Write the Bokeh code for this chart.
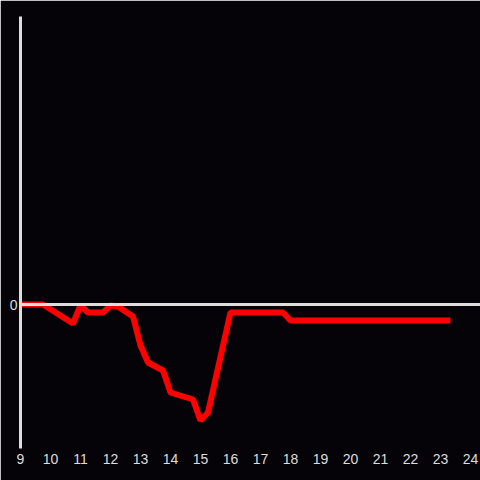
from bokeh.plotting import figure
from bokeh.models import Span, FixedTicker, Range1d
from bokeh.embed import file_html
from bokeh.resources import INLINE

hours = [9, 9.75, 10.75, 11, 11.25, 11.75, 12, 12.25, 12.75, 13, 13.25, 13.75,
         14, 14.75, 15, 15.25, 16, 17.75, 18, 23.33]
values = [0, 0, -1.9, -0.1, -0.8, -0.8, -0.1, -0.2, -1.2, -4.1, -5.8, -6.6,
          -8.8, -9.5, -11.6, -10.8, -0.8, -0.8, -1.6, -1.6]
x_ticks = list(range(9, 25))
y_ticks = [0]

BG = "#050307"
FG = "#dddddd"

p = figure(width=480, height=480, output_backend="svg", toolbar_location=None,
           x_range=Range1d(9, 24.333), y_range=Range1d(-14.4, 28.8),
           min_border_left=20, min_border_right=0, min_border_top=16, min_border_bottom=32)
p.background_fill_color = BG
p.border_fill_color = BG
p.outline_line_color = BG
p.outline_line_width = 2
p.grid.visible = False

p.xaxis.ticker = FixedTicker(ticks=x_ticks)
p.xaxis.axis_line_color = None
p.xaxis.major_tick_line_color = None
p.xaxis.minor_tick_line_color = None
p.xaxis.major_tick_out = 0
p.xaxis.major_tick_in = 0
p.xaxis.major_label_text_color = FG
p.xaxis.major_label_text_font = "Liberation Sans"
p.xaxis.major_label_text_font_size = "14px"
p.xaxis.major_label_standoff = 5

p.yaxis.ticker = FixedTicker(ticks=y_ticks)
p.yaxis.axis_line_color = FG
p.yaxis.axis_line_width = 3
p.yaxis.major_tick_line_color = None
p.yaxis.minor_tick_line_color = None
p.yaxis.major_tick_out = 0
p.yaxis.major_tick_in = 0
p.yaxis.major_label_text_color = FG
p.yaxis.major_label_text_font = "Liberation Sans"
p.yaxis.major_label_text_font_size = "14px"
p.yaxis.major_label_standoff = 3

p.add_layout(Span(location=0, dimension="width", line_color=FG, line_width=3))
p.line(hours, values, line_color="#ff0000", line_width=6)

open("out.html", "w").write(file_html(p, INLINE))
